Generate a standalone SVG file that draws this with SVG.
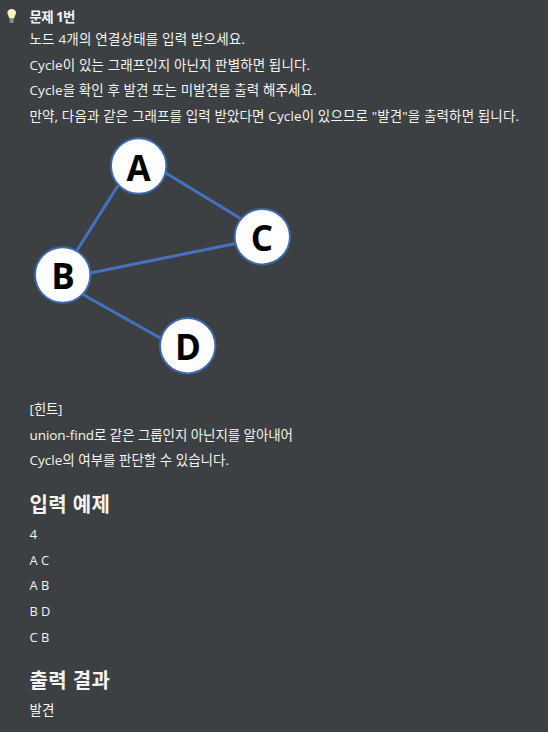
<svg xmlns="http://www.w3.org/2000/svg" width="548" height="732" viewBox="0 0 548 732">
<defs>
<filter id="soft" x="-30%" y="-30%" width="160%" height="160%"><feGaussianBlur stdDeviation="0.7"/></filter>
</defs>
<style>
text{font-family:"Open Sans","Noto Sans CJK KR",sans-serif;fill:#f4f4f0}
.t{font-size:13.5px}
.s{font-size:12.800px}
.b{font-size:13.5px;font-weight:700}
.h{font-size:20px;font-weight:700}
.n{font-size:35px;font-weight:700;fill:#000;text-anchor:middle;font-family:"Open Sans","Noto Sans",sans-serif}
.c{fill:#fff;stroke:#3d68ad;stroke-width:2}
.e{stroke:#4471c0;stroke-width:3;fill:none}
</style>
<rect width="548" height="732" fill="#3c4043"/>
<g id="bulb" filter="url(#soft)">
<path d="M11.700 9c2.600 0 4.300 1.800 4.300 3.800 0 2-1.400 3-1.900 5.700h-4.800c-.5-2.700-1.900-3.700-1.900-5.700 0-2 1.700-3.800 4.300-3.800z" fill="#fdf5c0"/>
<rect x="9.700" y="19" width="4" height="4" rx="1" fill="#8f8f84"/>
</g>
<g id="intro">
<text class="b" x="29.500" y="22" textLength="46">문제 1번</text>
<text class="t" x="29.500" y="44" textLength="215.500">노드 4개의 연결상태를 입력 받으세요.</text>
<text class="t" x="29.500" y="70" textLength="280.500">Cycle이 있는 그래프인지 아닌지 판별하면 됩니다.</text>
<text class="t" x="29.500" y="95" textLength="287">Cycle을 확인 후 발견 또는 미발견을 출력 해주세요.</text>
<text class="t" x="29.500" y="121" textLength="489.500">만약, 다음과 같은 그래프를 입력 받았다면 Cycle이 있으므로 "발견"을 출력하면 됩니다.</text>
</g>
<g id="connectors">
<line class="e" x1="119" y1="184" x2="75.300" y2="253"/>
<line class="e" x1="165" y1="172.500" x2="243" y2="220"/>
<line class="e" x1="88" y1="273.500" x2="237" y2="243.200"/>
<line class="e" x1="82" y1="294" x2="162" y2="339"/>
</g>
<g id="node-a"><circle class="c" cx="138.700" cy="166" r="27.700"/><text class="n" x="138.700" y="181">A</text></g>
<g id="node-b"><circle class="c" cx="62.700" cy="275" r="27.700"/><text class="n" x="63" y="288.500">B</text></g>
<g id="node-c"><circle class="c" cx="262.300" cy="236.700" r="27.700"/><text class="n" x="262" y="250.500">C</text></g>
<g id="node-d"><circle class="c" cx="187.700" cy="345.700" r="27.700"/><text class="n" x="188" y="360">D</text></g>
<g id="hint">
<text class="t" x="29.500" y="414" textLength="33">[힌트]</text>
<text class="t" x="29.500" y="440" textLength="263.500">union-find로 같은 그룹인지 아닌지를 알아내어</text>
<text class="t" x="29.500" y="465" textLength="199.500">Cycle의 여부를 판단할 수 있습니다.</text>
</g>
<g id="input">
<text class="h" x="29.500" y="512" textLength="80.500">입력 예제</text>
<text class="t" x="29.500" y="539">4</text>
<text class="s" x="29.500" y="565">A C</text>
<text class="s" x="29.500" y="590">A B</text>
<text class="s" x="29.500" y="616">B D</text>
<text class="s" x="29.500" y="642">C B</text>
</g>
<g id="output">
<text class="h" x="29.500" y="688" textLength="80.500">출력 결과</text>
<text class="t" x="29.500" y="715" textLength="24.800">발견</text>
</g>
</svg>
